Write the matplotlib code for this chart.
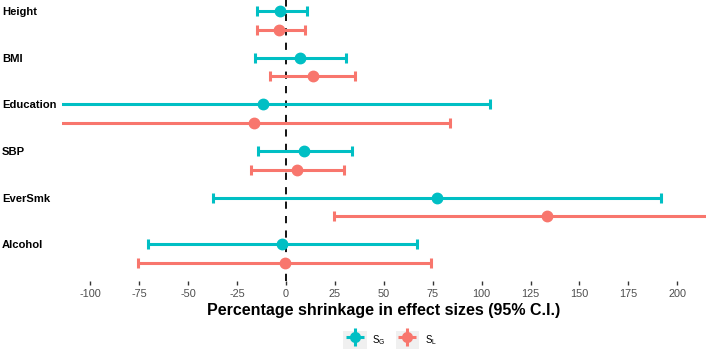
import matplotlib.pyplot as plt
from matplotlib.patches import Rectangle
from matplotlib.container import ErrorbarContainer
from matplotlib.legend_handler import HandlerTuple, HandlerErrorbar

plt.rcParams['font.family'] = ['Liberation Sans', 'DejaVu Sans']

# Shrinkage estimates (%) with 95% C.I.
traits = ['Height', 'BMI', 'Education', 'SBP', 'EverSmk', 'Alcohol']

sg_est = [-3.0, 7.0, -11.6, 9.4, 77.2, -1.9]
sg_low = [-14.6, -15.7, -127.0, -14.5, -37.2, -70.7]
sg_high = [10.7, 30.7, 104.1, 33.9, 191.9, 66.8]

sl_est = [-3.5, 13.8, -16.2, 5.6, 133.4, -0.5]
sl_low = [-14.8, -8.3, -116.0, -17.9, 24.4, -75.5]
sl_high = [9.7, 35.3, 83.8, 29.8, 242.0, 74.1]

xticks = [-100, -75, -50, -25, 0, 25, 50, 75, 100, 125, 150, 175, 200]

teal = '#00BFC4'
salmon = '#F8766D'

fig = plt.figure(figsize=(7.06, 3.53), dpi=100)
ax = fig.add_axes([62 / 706, 1 - 281 / 353, 644 / 706, 281 / 353])

pos = list(range(len(traits)))
offset = 0.4


def draw(est, low, high, shift, color):
    ys = [p + shift for p in pos]
    xerr = [[e - l for e, l in zip(est, low)], [h - e for e, h in zip(est, high)]]
    return ax.errorbar(est, ys, xerr=xerr, fmt='o', color=color, ecolor=color,
                       elinewidth=2.2, capsize=3.5, capthick=2.2, markersize=7.5,
                       zorder=3)


draw(sg_est, sg_low, sg_high, 0, teal)
draw(sl_est, sl_low, sl_high, offset, salmon)

ax.axvline(0, color='black', linestyle=(0, (4, 4)), linewidth=1.3, zorder=2)

ax.set_xlim(-114.5, 214.7)
ax.set_ylim(len(traits) - 1 + offset + 0.39, -0.24)

ax.set_xticks(xticks)
ax.set_xticklabels([str(t) for t in xticks], fontsize=7.8, color='#4D4D4D')
ax.tick_params(axis='x', length=3, width=1, color='#333333', pad=3)

ax.set_yticks(pos)
ax.set_yticklabels(traits, fontsize=8.1, fontweight='bold', ha='left')
ax.tick_params(axis='y', length=0, pad=43.2)

ax.set_xlabel('Percentage shrinkage in effect sizes (95% C.I.)', fontsize=11.5,
              fontweight='bold', labelpad=3)

for s in ax.spines.values():
    s.set_visible(False)

# legend with grey key backgrounds
h_sg = ax.errorbar([], [], xerr=[], yerr=[], fmt='o', color=teal, elinewidth=2.2,
                   markersize=7, capsize=0)
h_sl = ax.errorbar([], [], xerr=[], yerr=[], fmt='o', color=salmon, elinewidth=2.2,
                   markersize=7, capsize=0)
bg1 = Rectangle((0, 0), 1, 1, facecolor='#F0F0F0', edgecolor='none')
bg2 = Rectangle((0, 0), 1, 1, facecolor='#F0F0F0', edgecolor='none')
fig.legend([(bg1, h_sg), (bg2, h_sl)], [r'S$_\mathregular{G}$', r'S$_\mathregular{L}$'],
           handler_map={tuple: HandlerTuple(ndivide=1, pad=0),
                        ErrorbarContainer: HandlerErrorbar(xerr_size=0.9, yerr_size=0.9)},
           loc='center', bbox_to_anchor=(390 / 706, 1 - 340 / 353), ncol=2,
           frameon=False, fontsize=7, handlelength=2.4, handleheight=2.4,
           handletextpad=0.6, columnspacing=1.0)

fig.savefig('out.png', dpi=100)
